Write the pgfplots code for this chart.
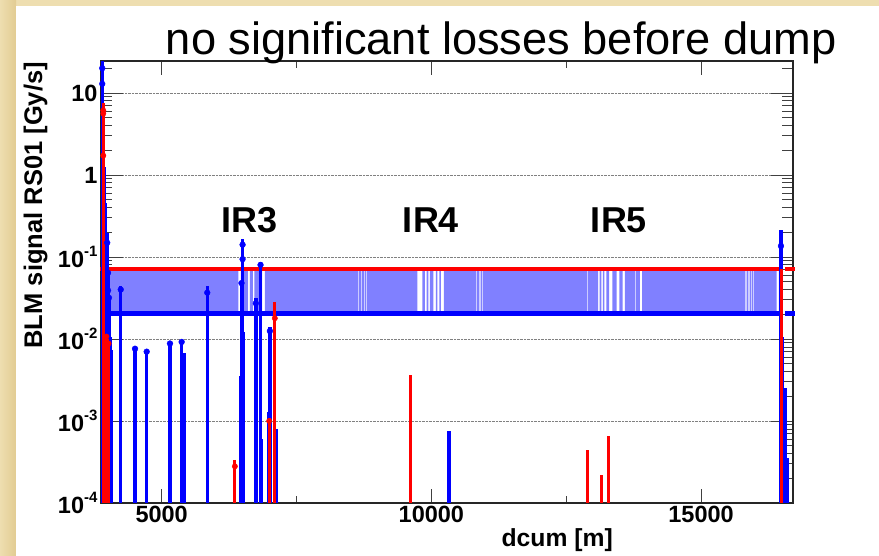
\documentclass[border=0pt]{standalone}
\usepackage{pgfplots}
\usepackage{pgfplotstable}
\pgfplotsset{compat=1.18}
\usepackage{fontspec}
\setmainfont{Liberation Sans}

\definecolor{slidebeige}{RGB}{238,222,176}
\definecolor{slidetan}{RGB}{226,204,146}
\definecolor{bandblue}{RGB}{128,128,255}
\definecolor{rootblue}{RGB}{0,0,255}
\definecolor{rootred}{RGB}{255,0,0}

\newcommand\tenexp[1]{\textbf{10}\raisebox{0.45em}{\fontsize{15}{15}\selectfont\bfseries #1}}

% beam loss monitor readings: position of the spike [m], peak signal [Gy/s]
\pgfplotstableread{
x v
3898 24.5
3930 1.25
3960 0.46
3990 0.197
4005 0.064
4022 0.032
4045 0.0107
4074 0.0074
4241 0.044
4506 0.0080
4722 0.0074
5154 0.0093
5370 0.0098
5413 0.0068
5845 0.044
6470 0.0035
6480 0.05
6500 0.164
6515 0.012
6746 0.032
6760 0.0009
6833 0.086
6845 0.0006
6974 0.0013
7006 0.0139
7020 0.0045
7130 0.0008
10326 0.00076
16482 0.213
16515 0.0107
16560 0.0025
16600 0.00035
}\bluespikes

\pgfplotstableread{
x v
3898 20
3898 12.9
3990 0.149
4005 0.064
4005 0.039
4022 0.0318
4241 0.040
4506 0.0076
4722 0.0070
5154 0.0088
5370 0.0092
5845 0.0367
6480 0.048
6500 0.141
6500 0.094
6746 0.0272
6833 0.080
7006 0.0125
16482 0.136
}\bluemarks

\pgfplotstableread{
x v
3918 7.5
3955 0.0112
3975 0.0105
3995 0.0100
4015 0.0090
6357 0.000334
6993 0.00108
7098 0.0283
9611 0.00364
12900 0.000443
13160 0.000219
13289 0.000656
16493 0.0715
}\redspikes

\pgfplotstableread{
x v
3918 6.1
3918 5.6
3918 1.72
3975 0.0107
4015 0.0088
6357 0.00028
6993 0.0010
7098 0.0179
}\redmarks

% threshold band: top edge per section, 0.0202 where the band is interrupted
\pgfplotstableread{
x v
3876 0.0715
6424 0.0202
6470 0.0715
6600 0.0202
6637 0.0715
6693 0.0202
6717 0.0715
6860 0.0202
6915 0.0715
9739 0.0202
9832 0.0715
9882 0.0202
9913 0.0715
9943 0.0202
9974 0.0715
10035 0.0202
10085 0.0715
10110 0.0202
10147 0.0715
10178 0.0202
10234 0.0715
13094 0.0202
13120 0.0715
13150 0.0202
13180 0.0715
13210 0.0202
13245 0.0715
13298 0.0202
13354 0.0715
13436 0.0202
13484 0.0715
13547 0.0202
13590 0.0715
13866 0.0202
13908 0.0715
16402 0.0202
16445 0.0715
16482 0.0715
16482 0.0202
3876 0.0202
}\band

\begin{document}
\begin{tikzpicture}
% slide background
\fill[slidebeige] (0,0) rectangle (879pt,556pt);
\shade[left color=slidebeige, right color=slidetan] (0,0) rectangle (16pt,556pt);
\fill[white] (16pt,0) rectangle (879pt,550pt);

\begin{axis}[
  at={(101pt,53pt)}, anchor=south west,
  scale only axis, width=692pt, height=442pt,
  xmin=3875, xmax=16705,
  ymode=log, ymin=1e-4, ymax=24.5,
  log origin y=infty,
  clip=false,
  axis line style={black!85, line width=1.1pt},
  xtick={5000,10000,15000},
  xticklabels={5000,10000,15000},
  scaled x ticks=false,
  minor x tick num=1,
  ytick={1e-4,1e-3,1e-2,1e-1,1,10},
  yticklabels={\tenexp{-4},\tenexp{-3},\tenexp{-2},\tenexp{-1},\textbf{1},\textbf{10}},
  minor ytick={2e-4,3e-4,4e-4,5e-4,6e-4,7e-4,8e-4,9e-4,
               2e-3,3e-3,4e-3,5e-3,6e-3,7e-3,8e-3,9e-3,
               2e-2,3e-2,4e-2,5e-2,6e-2,7e-2,8e-2,9e-2,
               0.2,0.3,0.4,0.5,0.6,0.7,0.8,0.9,
               2,3,4,5,6,7,8,9,20},
  tick align=inside,
  xtick style={/pgfplots/major tick length=14pt, /pgfplots/minor tick length=7pt, black!75, line width=0.8pt},
  ytick style={/pgfplots/major tick length=22pt, /pgfplots/minor tick length=11pt, black!75, line width=0.8pt},
  ymajorgrids,
  major grid style={densely dotted, black!50, line width=0.7pt},
  ticklabel style={font=\bfseries\fontsize{23.5}{24}\selectfont},
]
% threshold band and its limits
\addplot[const plot, fill=bandblue, draw=none] table[x=x,y=v] {\band};
\addplot[white, opacity=0.6, line width=1.2pt, unbounded coords=jump] coordinates {
  (8650,0.0205) (8650,0.070) (8650,nan)
  (8700,0.0205) (8700,0.070) (8700,nan)
  (8760,0.0205) (8760,0.070) (8760,nan)
  (8800,0.0205) (8800,0.070) (8800,nan)
  (10840,0.0205) (10840,0.070) (10840,nan)
  (10900,0.0205) (10900,0.070) (10900,nan)
  (10945,0.0205) (10945,0.070) (10945,nan)
  (12890,0.0205) (12890,0.070) (12890,nan)
  (13790,0.0205) (13790,0.070) (13790,nan)
  (15835,0.0205) (15835,0.070) (15835,nan)
  (15890,0.0205) (15890,0.070) (15890,nan)
  (15935,0.0205) (15935,0.070) (15935,nan)
  (15975,0.0205) (15975,0.070)
};
\addplot[rootblue, line width=5pt, unbounded coords=jump] coordinates {
  (3868,0.0202) (16505,0.0202) (16505,nan) (16565,0.0202) (16740,0.0202)};
\addplot[rootred, line width=4pt, unbounded coords=jump] coordinates {
  (3862,0.0715) (16505,0.0715) (16505,nan) (16565,0.0715) (16740,0.0715)};

% loss spikes
\addplot[ycomb, draw=rootblue, line width=3.3pt] table[x=x,y=v] {\bluespikes};
\addplot[ycomb, draw=rootred, line width=3pt] table[x=x,y=v] {\redspikes};
\addplot[only marks, mark=*, mark size=2.9pt, rootblue] table[x=x,y=v] {\bluemarks};
\addplot[only marks, mark=*, mark size=2.7pt, rootred] table[x=x,y=v] {\redmarks};
\end{axis}

% titles and labels
\node[anchor=base west, inner sep=0pt] at (165.7pt,501pt)
  {\fontsize{45.2}{50}\selectfont no significant losses before dump};
\node[anchor=base east, inner sep=0pt, rotate=90] at (42pt,494pt)
  {\bfseries\fontsize{25.5}{26}\selectfont BLM signal RS01 [Gy/s]};
\node[anchor=base east, inner sep=0pt] at (613pt,9.5pt)
  {\bfseries\fontsize{24.7}{25}\selectfont dcum [m]};
\node[anchor=base, inner sep=0pt] at (250pt,323pt) {\bfseries\fontsize{36}{36}\selectfont IR3};
\node[anchor=base, inner sep=0pt] at (431pt,323pt) {\bfseries\fontsize{36}{36}\selectfont IR4};
\node[anchor=base, inner sep=0pt] at (619pt,323pt) {\bfseries\fontsize{36}{36}\selectfont IR5};

\pgfresetboundingbox
\useasboundingbox (0,0) rectangle (879pt,556pt);
\end{tikzpicture}
\end{document}
